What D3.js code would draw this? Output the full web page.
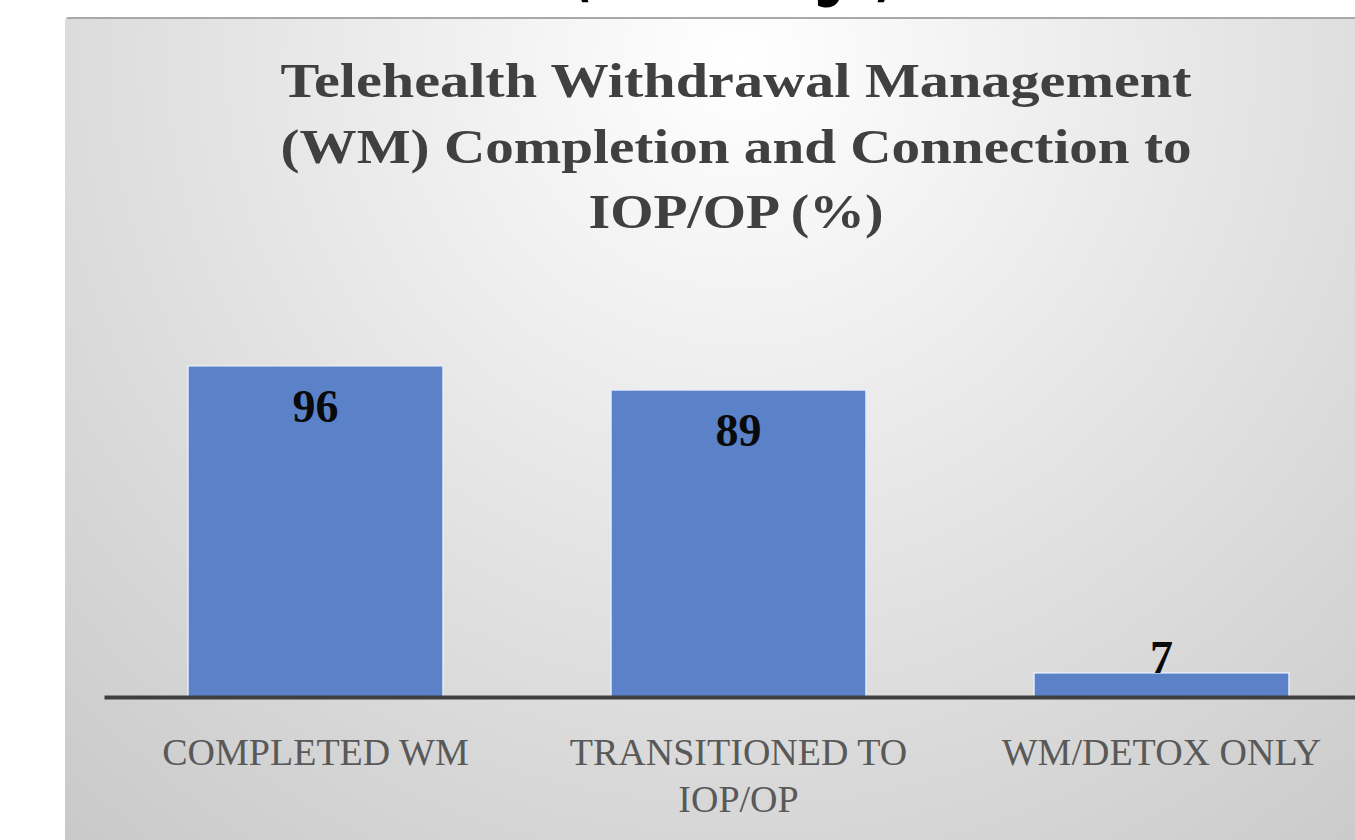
<!DOCTYPE html>
<html>
<head>
<meta charset="utf-8">
<script src="https://cdn.jsdelivr.net/npm/d3@7"></script>
<style>
  html, body { margin: 0; padding: 0; background: #fff; overflow: hidden; }
  svg { display: block; }
</style>
</head>
<body>
<div id="chart"></div>
<script>
// chart values
const categories = ["COMPLETED WM", "TRANSITIONED TO IOP/OP", "WM/DETOX ONLY"];
const categoryLines = [["COMPLETED WM"], ["TRANSITIONED TO", "IOP/OP"], ["WM/DETOX ONLY"]];
const values = [96, 89, 7];
const titleLines = ["Telehealth Withdrawal Management", "(WM) Completion and Connection to", "IOP/OP (%)"];
const slideHeading = "(Percentage)";

const width = 1355;
const height = 840;

const svg = d3.select("#chart")
  .append("svg")
  .attr("width", width)
  .attr("height", height);

const defs = svg.append("defs");
const grad = defs.append("radialGradient")
  .attr("id", "bg")
  .attr("gradientUnits", "userSpaceOnUse")
  .attr("cx", 740).attr("cy", 60)
  .attr("r", 1050);
grad.append("stop").attr("offset", "0%").attr("stop-color", "#ffffff");
grad.append("stop").attr("offset", "45%").attr("stop-color", "#e6e6e6");
grad.append("stop").attr("offset", "100%").attr("stop-color", "#c8c8c8");

// cut off heading of the slide above the chart
svg.append("text")
  .attr("x", 572)
  .attr("y", -6)
  .attr("textLength", 322)
  .attr("lengthAdjust", "spacingAndGlyphs")
  .style("font-family", "DejaVu Sans, sans-serif")
  .style("font-weight", "bold")
  .style("font-size", "64px")
  .style("fill", "#000")
  .text(slideHeading);

// chart panel
svg.append("rect")
  .attr("x", 65).attr("y", 17)
  .attr("width", 1300).attr("height", 830)
  .attr("rx", 3)
  .attr("fill", "url(#bg)");
svg.append("line")
  .attr("x1", 67).attr("x2", 1355)
  .attr("y1", 18).attr("y2", 18)
  .attr("stroke", "#a9a9a9")
  .attr("stroke-width", 2);

// title
svg.append("g")
  .selectAll("text")
  .data(titleLines)
  .enter()
  .append("text")
  .attr("x", 736)
  .attr("y", (d, i) => 97 + i * 65.5)
  .attr("text-anchor", "middle")
  .attr("textLength", (d, i) => i < 2 ? 911 : 295)
  .attr("lengthAdjust", "spacingAndGlyphs")
  .style("font-family", "Liberation Serif, serif")
  .style("font-weight", "bold")
  .style("font-size", "49px")
  .style("fill", "#404040")
  .text(d => d);

// scales
const x = d3.scaleBand()
  .domain(categories)
  .range([104, 1373])
  .paddingInner(0.397)
  .paddingOuter(0.1985);

const y = d3.scaleLinear()
  .domain([0, 100])
  .range([697, 352]);

// bars
svg.append("g")
  .selectAll("rect")
  .data(values)
  .enter()
  .append("rect")
  .attr("x", (d, i) => x(categories[i]))
  .attr("y", d => y(d))
  .attr("width", x.bandwidth())
  .attr("height", d => y(0) - y(d))
  .attr("fill", "#5b81c9")
  .attr("stroke", "#e9eef8")
  .attr("stroke-width", 1.5);

// value labels
svg.append("g")
  .selectAll("text")
  .data(values)
  .enter()
  .append("text")
  .attr("x", (d, i) => x(categories[i]) + x.bandwidth() / 2)
  .attr("y", d => (y(0) - y(d) > 80) ? y(d) + 56 : y(d))
  .attr("text-anchor", "middle")
  .style("font-family", "Liberation Serif, serif")
  .style("font-weight", "bold")
  .style("font-size", "46px")
  .style("fill", "#0a0a0a")
  .text(d => d);

// axis baseline
const xAxis = d3.axisBottom(x).tickSize(0).tickFormat("");
const axisG = svg.append("g")
  .attr("transform", `translate(0,${y(0)})`)
  .call(xAxis);
axisG.select(".domain")
  .attr("stroke", "#3f3f3f")
  .attr("stroke-width", 4);

// category labels
const catG = svg.append("g")
  .selectAll("text")
  .data(categoryLines)
  .enter()
  .append("text")
  .attr("text-anchor", "middle")
  .style("font-family", "Liberation Serif, serif")
  .style("font-size", "38px")
  .style("fill", "#595959");

catG.selectAll("tspan")
  .data((d, i) => d.map(t => ({ t: t, i: i })))
  .enter()
  .append("tspan")
  .attr("x", d => x(categories[d.i]) + x.bandwidth() / 2)
  .attr("y", (d, j) => 765 + j * 47)
  .text(d => d.t);
</script>
</body>
</html>
